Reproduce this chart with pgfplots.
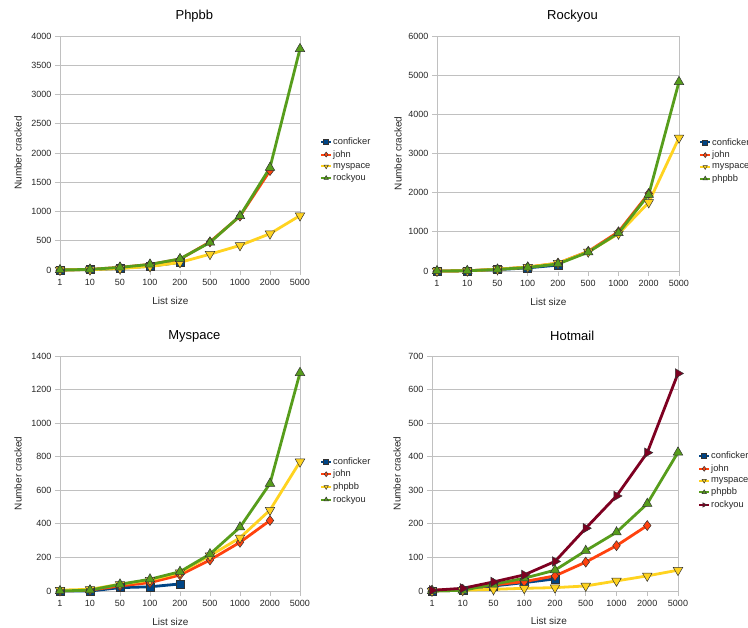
\documentclass[border=0pt]{standalone}
\usepackage{pgfplots}
\pgfplotsset{compat=1.18}
\usepackage{fontspec}
\setmainfont{Liberation Sans}
\definecolor{cA}{HTML}{004586}
\definecolor{cB}{HTML}{FF420E}
\definecolor{cC}{HTML}{FFD320}
\definecolor{cD}{HTML}{579D1C}
\definecolor{cE}{HTML}{7E0021}
\definecolor{gridc}{HTML}{C0C0C0}
\pgfplotsset{
  sA/.style={color=cA, mark=square*, mark size=4pt, mark options={draw=black!80, fill=cA, line width=0.5pt}},
  sB/.style={color=cB, mark=diamond*, mark size=5pt, mark options={draw=black!80, fill=cB, line width=0.5pt}},
  sC/.style={color=cC, mark=triangle*, mark size=5.5pt, mark options={draw=black!80, fill=cC, line width=0.5pt, rotate=180}},
  sD/.style={color=cD, mark=triangle*, mark size=5.5pt, mark options={draw=black!80, fill=cD, line width=0.5pt}},
  sE/.style={color=cE, mark=triangle*, mark size=5.5pt, mark options={draw=black!80, fill=cE, line width=0.5pt, rotate=-90}},
  myax/.style={
    scale only axis, clip=false,
    xmin=0, xmax=8, xtick={0,...,8},
    xticklabels={1,10,50,100,200,500,1000,2000,5000},
    ymin=0,
    ymajorgrids, grid style={gridc, line width=0.8pt},
    axis line style={gridc, line width=0.8pt},
    tick style={gridc, line width=0.8pt},
    tick align=outside, major tick length=5pt, tick pos=left,
    /pgf/number format/assume math mode=true,
    /pgf/number format/1000 sep={},
    tick label style={font=\fontsize{9}{10}\selectfont, text=black!85},
    xticklabel style={yshift=-1pt},
    xlabel={List size}, ylabel={Number cracked},
    every axis x label/.style={at={(axis description cs:0.46,0)}, yshift=-31pt, anchor=center, font=\fontsize{10}{12}\selectfont, text=black!85},
    every axis title/.style={at={(axis description cs:0.56,1)}, yshift=20pt, anchor=center, font=\fontsize{13}{15}\selectfont},
    legend style={draw=none, fill=none, font=\fontsize{9.3}{10}\selectfont, at={(axis description cs:1,0.47)}, anchor=west, xshift=20pt, inner sep=0pt, row sep=2.4pt, text=black!85, nodes={inner sep=1pt}},
    legend cell align=left,
    legend image code/.code={\draw[#1, line width=2pt, mark size=2.5pt, mark repeat=2, mark phase=2] plot coordinates {(0pt,0pt) (5pt,0pt) (10pt,0pt)};},
    every axis plot/.append style={line width=2.8pt},
  },
}
\begin{document}
\begin{tikzpicture}
\path[use as bounding box] (0,0) rectangle (748pt,628pt);
% Phpbb
\begin{axis}[myax, at={(60pt,358pt)}, anchor=south west, width=240pt, height=234pt,
  ymax=4000, ytick={0,500,...,4000}, title={Phpbb},
  every axis y label/.style={at={(axis description cs:0,0.5)}, xshift=-42pt, rotate=90, anchor=center, font=\fontsize{10}{12}\selectfont, text=black!85}]
\addplot[sA] coordinates {(0,0)(1,5)(2,30)(3,65)(4,130)};
\addplot[sB] coordinates {(0,0)(1,10)(2,45)(3,95)(4,185)(5,480)(6,920)(7,1700)};
\addplot[sC] coordinates {(0,0)(1,5)(2,25)(3,60)(4,130)(5,270)(6,420)(7,620)(8,930)};
\addplot[sD] coordinates {(0,0)(1,10)(2,45)(3,95)(4,190)(5,470)(6,925)(7,1750)(8,3780)};
\legend{conficker,john,myspace,rockyou}
\end{axis}
% Rockyou
\begin{axis}[myax, at={(437pt,357pt)}, anchor=south west, width=242pt, height=235pt,
  ymax=6000, ytick={0,1000,...,6000}, title={Rockyou},
  every axis y label/.style={at={(axis description cs:0,0.5)}, xshift=-39pt, rotate=90, anchor=center, font=\fontsize{10}{12}\selectfont, text=black!85}]
\addplot[sA] coordinates {(0,0)(1,5)(2,35)(3,80)(4,150)};
\addplot[sB] coordinates {(0,0)(1,5)(2,45)(3,100)(4,200)(5,500)(6,1000)(7,1980)};
\addplot[sC] coordinates {(0,0)(1,5)(2,45)(3,100)(4,200)(5,490)(6,950)(7,1750)(8,3400)};
\addplot[sD] coordinates {(0,0)(1,5)(2,40)(3,90)(4,180)(5,480)(6,970)(7,1950)(8,4830)};
\legend{conficker,john,myspace,phpbb}
\end{axis}
% Myspace
\begin{axis}[myax, at={(60pt,37pt)}, anchor=south west, width=240pt, height=235pt,
  ymax=1400, ytick={0,200,...,1400}, title={Myspace},
  every axis y label/.style={at={(axis description cs:0,0.5)}, xshift=-42pt, rotate=90, anchor=center, font=\fontsize{10}{12}\selectfont, text=black!85}]
\addplot[sA] coordinates {(0,0)(1,0)(2,20)(3,25)(4,42)};
\addplot[sB] coordinates {(0,0)(1,5)(2,30)(3,50)(4,95)(5,185)(6,290)(7,420)};
\addplot[sC] coordinates {(0,5)(1,10)(2,40)(3,65)(4,110)(5,210)(6,317)(7,482)(8,770)};
\addplot[sD] coordinates {(0,0)(1,5)(2,40)(3,70)(4,115)(5,220)(6,380)(7,640)(8,1300)};
\legend{conficker,john,phpbb,rockyou}
\end{axis}
% Hotmail
\begin{axis}[myax, at={(432pt,37pt)}, anchor=south west, width=246pt, height=235pt,
  ymax=700, ytick={0,100,...,700}, title={Hotmail},
  every axis title/.style={at={(axis description cs:0.57,1)}, yshift=20pt, anchor=center, font=\fontsize{13}{15}\selectfont},
  every axis x label/.style={at={(axis description cs:0.475,0)}, yshift=-30pt, anchor=center, font=\fontsize{10}{12}\selectfont, text=black!85},
  every axis y label/.style={at={(axis description cs:0,0.5)}, xshift=-35pt, rotate=90, anchor=center, font=\fontsize{10}{12}\selectfont, text=black!85}]
\addplot[sA] coordinates {(0,0)(1,2)(2,15)(3,25)(4,36)};
\addplot[sB] coordinates {(0,2)(1,5)(2,18)(3,28)(4,45)(5,86)(6,135)(7,195)};
\addplot[sC] coordinates {(0,0)(1,2)(2,5)(3,8)(4,10)(5,15)(6,30)(7,45)(8,62)};
\addplot[sD] coordinates {(0,0)(1,2)(2,20)(3,38)(4,62)(5,120)(6,175)(7,260)(8,413)};
\addplot[sE] coordinates {(0,2)(1,8)(2,27)(3,48)(4,88)(5,187)(6,283)(7,412)(8,648)};
\legend{conficker,john,myspace,phpbb,rockyou}
\end{axis}
\end{tikzpicture}
\end{document}
